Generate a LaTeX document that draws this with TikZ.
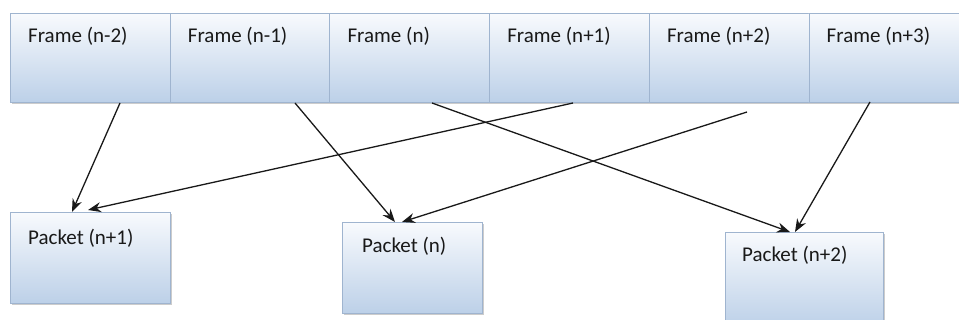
\documentclass[tikz,border=0pt]{standalone}
\usepackage{fontspec}
\setmainfont{Carlito}
\usetikzlibrary{arrows.meta,shadows,calc}
\definecolor{boxtop}{HTML}{F8FAFD}
\definecolor{boxbot}{HTML}{BCD0E8}
\definecolor{boxline}{HTML}{9FB4CF}
\tikzset{
 cell/.style={draw=boxline, line width=0.9pt, top color=boxtop, bottom color=boxbot,
   anchor=north west, inner sep=0pt,
   drop shadow={shadow xshift=1.8pt, shadow yshift=-1.8pt, opacity=0.4}},
 lbl/.style={anchor=base west, inner sep=0pt, font=\fontsize{21}{25}\selectfont, text=black!90},
 arr/.style={-{Stealth[length=13pt,width=10pt]}, line width=1.3pt, black!90}
}
\begin{document}
\begin{tikzpicture}[x=1pt,y=-1pt]
\useasboundingbox (0,0) rectangle (959,320);
\clip (0,0) rectangle (959,320);
% frames
\foreach \i/\t in {0/{n-2},1/{n-1},2/{n},3/{n+1},4/{n+2},5/{n+3}}{
  \node[cell, minimum width=159.7pt, minimum height=89pt] (f\i) at ({10+159.7*\i},13) {};
  \node[lbl] (ft\i) at ($(f\i.north west)+(18,30)$) {Frame (\t)};
}
% packets
\node[cell, minimum width=160pt, minimum height=91pt] (p1) at (10,212) {};
\node[lbl] (pt1) at ($(p1.north west)+(18,33)$) {Packet (n+1)};
\node[cell, minimum width=140pt, minimum height=91pt] (p0) at (342,222) {};
\node[lbl] (pt0) at ($(p0.north west)+(20,31)$) {Packet (n)};
\node[cell, minimum width=158pt, minimum height=95pt] (p2) at (725,232) {};
\node[lbl] (pt2) at ($(p2.north west)+(17,30)$) {Packet (n+2)};
% arrow ends
\coordinate (s0) at (120,103);
\coordinate (s1) at (295,103);
\coordinate (s2) at (432,103);
\coordinate (s3) at (573,103);
\coordinate (s4) at (747,112);
\coordinate (s5) at (870,102);
\draw[arr] (s0) -- ($(p1.north west)+(62,0)$);
\draw[arr] (s3) -- ($(p1.north west)+(78,-2)$);
\draw[arr] (s1) -- ($(p0.north west)+(53,0)$);
\draw[arr] (s4) -- ($(p0.north west)+(60,0)$);
\draw[arr] (s2) -- ($(p2.north west)+(65,0)$);
\draw[arr] (s5) -- ($(p2.north west)+(70,0)$);
\end{tikzpicture}
\end{document}
